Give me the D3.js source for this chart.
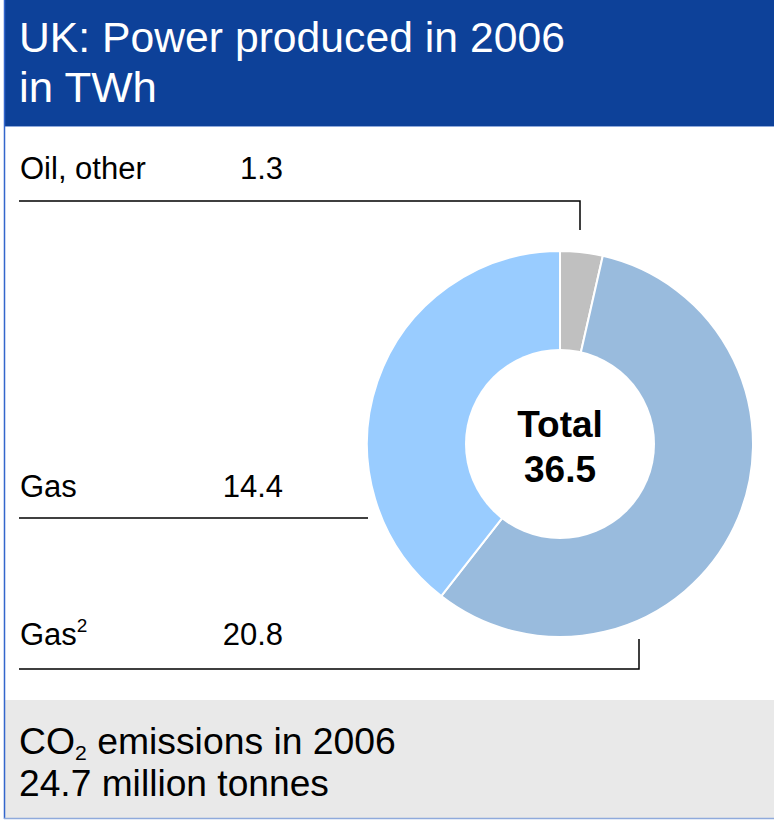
<!DOCTYPE html>
<html>
<head>
<meta charset="utf-8">
<script src="https://cdn.jsdelivr.net/npm/d3@7"></script>
<style>
  body { margin: 0; background: #fff; }
  text { font-family: "Liberation Sans", Arial, sans-serif; }
</style>
</head>
<body>
<div id="canvas"></div>
<script>
// data
var labels = ["Oil, other", "Gas²", "Gas"];
var values = [1.3, 20.8, 14.4];
var colors = ["#c0c0c0", "#99bbdd", "#99ccff"];
var total = 36.5;

var W = 774, H = 821;
var svg = d3.select("#canvas").append("svg")
    .attr("width", W).attr("height", H);

// squeeze a text horizontally so it spans the given width (narrow font look)
function squeeze(sel, x, y, width) {
  var len = sel.node().getComputedTextLength();
  sel.attr("transform", "translate(" + x + "," + y + ") scale(" + (width / len) + ",1)");
}

// frame
svg.append("rect").attr("x", 4).attr("y", 0).attr("width", W - 4).attr("height", 126)
    .attr("fill", "#0d4199");
svg.append("line").attr("x1", 4).attr("x2", W).attr("y1", 126.5).attr("y2", 126.5)
    .attr("stroke", "#8faadc").attr("stroke-width", 1);
svg.append("rect").attr("x", 4).attr("y", 700).attr("width", W - 4).attr("height", 118)
    .attr("fill", "#e9e9e9");
svg.append("line").attr("x1", 4.5).attr("x2", 4.5).attr("y1", 0).attr("y2", 819)
    .attr("stroke", "#3366cc").attr("stroke-width", 1.5);
svg.append("line").attr("x1", 4).attr("x2", W).attr("y1", 818.5).attr("y2", 818.5)
    .attr("stroke", "#8faadc").attr("stroke-width", 1.5);

// title
var t1 = svg.append("text").attr("fill", "#fff").attr("font-size", 42)
    .text("UK: Power produced in 2006");
squeeze(t1, 19, 52, 546);
var t2 = svg.append("text").attr("fill", "#fff").attr("font-size", 42).text("in TWh");
squeeze(t2, 19, 102, 138);

// donut
var cx = 560, cy = 444, rOut = 193, rIn = 95;
var pie = d3.pie().sort(null).value(function (d) { return d; });
var arc = d3.arc().innerRadius(0).outerRadius(rOut);
var g = svg.append("g").attr("transform", "translate(" + cx + "," + cy + ")");
g.selectAll("path").data(pie(values)).enter().append("path")
    .attr("d", arc)
    .attr("fill", function (d, i) { return colors[i]; })
    .attr("stroke", "#fff").attr("stroke-width", 2);
g.append("circle").attr("r", rIn).attr("fill", "#fff");
var tot = g.append("text").attr("text-anchor", "middle").attr("font-weight", "bold")
    .attr("font-size", 37);
tot.append("tspan").attr("x", 0).attr("y", -7).text("Total");
tot.append("tspan").attr("x", 0).attr("y", 38).text(total);

// labels with leader lines
var rows = [
  { i: 0, y: 179, path: [[19, 201], [580, 201], [580, 230]] },
  { i: 2, y: 497, path: [[19, 518], [368, 518]] },
  { i: 1, y: 645, path: [[19, 669], [639, 669], [639, 639]] }
];
rows.forEach(function (r) {
  var t = svg.append("text").attr("x", 20).attr("y", r.y).attr("font-size", 31);
  if (r.i === 1) {
    t.append("tspan").text("Gas");
    t.append("tspan").attr("font-size", 19).attr("dy", -13).text("2");
  } else {
    t.text(labels[r.i]);
  }
  svg.append("text").attr("x", 283).attr("y", r.y).attr("font-size", 31)
      .attr("text-anchor", "end").text(values[r.i]);
  svg.append("path").attr("d", d3.line()(r.path))
      .attr("fill", "none").attr("stroke", "#000").attr("stroke-width", 1.5);
});

// footer
var f1 = svg.append("text").attr("font-size", 37);
f1.append("tspan").text("CO");
f1.append("tspan").attr("font-size", 21).attr("dy", 6).text("2");
f1.append("tspan").attr("dy", -6).text(" emissions in 2006");
squeeze(f1, 19, 754, 377);
var f2 = svg.append("text").attr("font-size", 37).text("24.7 million tonnes");
squeeze(f2, 19, 796, 310);
</script>
</body>
</html>
